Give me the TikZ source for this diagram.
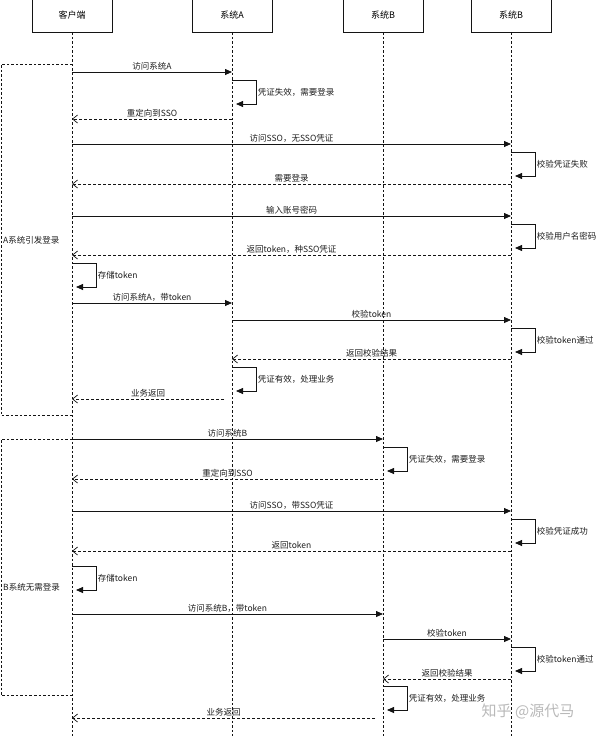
\documentclass[tikz,border=0pt]{standalone}
\usepackage{fontspec}
\usepackage{tikz}
\usetikzlibrary{arrows.meta,positioning,calc}
\newfontfamily\cjk{Noto Sans CJK SC}
\definecolor{seqInk}{RGB}{20,20,20}
\definecolor{seqText}{RGB}{30,30,30}
\definecolor{markGray}{RGB}{185,185,185}
\tikzset{
  actor/.style={draw=seqInk, fill=white, line width=0.8pt, minimum width=80pt, minimum height=33pt,
                inner sep=0pt, font=\cjk\fontsize{9}{10}\selectfont},
  lifeline/.style={draw=seqInk, line width=0.7pt, dash pattern=on 2.5pt off 2pt},
  framebox/.style={draw=seqInk, line width=0.7pt, dash pattern=on 2.5pt off 2pt},
  msglbl/.style={font=\cjk\fontsize{8.5}{9}\selectfont, text=seqText, inner sep=1.5pt},
  callarrow/.style={-{Triangle[length=7pt,width=6pt]}, line width=0.8pt, draw=seqInk},
  backarrow/.style={-{Straight Barb[length=5pt,width=8pt]}, line width=0.7pt, draw=seqInk,
                    dash pattern=on 3pt off 2pt}
}
\begin{document}
\begin{tikzpicture}[x=1pt, y=-1pt]
\useasboundingbox (0,0) rectangle (600,736);
\node[actor] (client) at (72,15.5) {客户端};
\node[actor] (sysa) at (232,15.5) {系统A};
\node[actor] (sysb) at (383,15.5) {系统B};
\node[actor] (sso) at (511,15.5) {系统B};
\foreach \n in {client,sysa,sysb,sso}
  \draw[lifeline] (\n.south) -- (\n.south |- 0,736);
\draw[framebox] (client.south |- 0,64) -| (1,415) -- (client.south |- 0,415);
\node[msglbl, anchor=west, inner sep=0pt] (grpa) at (3,240) {A系统引发登录};
\draw[framebox] (client.south |- 0,439) -| (1,695) -- (client.south |- 0,695);
\node[msglbl, anchor=west, inner sep=0pt] (grpb) at (3,587) {B系统无需登录};
\foreach \a/\b/\y/\t in {client/sysa/72/访问系统A, client/sso/144/访问SSO，无SSO凭证,
    client/sso/216/输入账号密码, client/sysa/303/访问系统A，带token, sysa/sso/320/校验token,
    client/sysb/439/访问系统B, client/sso/511/访问SSO，带SSO凭证,
    client/sysb/614/访问系统B，带token, sysb/sso/639/校验token}
  \draw[callarrow] (\a |- 0,\y) -- node[above, msglbl] {\t} (\b |- 0,\y);
\foreach \a/\b/\s/\y/\t in {sysa/client/0/119/重定向到SSO, sso/client/0/184/需要登录,
    sso/client/0/255/返回token，种SSO凭证, sso/sysa/0/359/返回校验结果, sysa/client/8/399/业务返回,
    sysb/client/0/479/重定向到SSO, sso/client/0/551/返回token, sso/sysb/0/679/返回校验结果,
    sysb/client/8/718/业务返回}
  \draw[backarrow] ($(\a |- 0,\y)-(\s,0)$) -- node[above, msglbl] {\t} (\b |- 0,\y);
\foreach \a/\y/\t in {sysa/80/凭证失效，需要登录, sso/152/校验凭证失败, sso/224/校验用户名密码,
    client/263/存储token, sso/328/校验token通过, sysa/367/凭证有效，处理业务,
    sysb/447/凭证失效，需要登录, sso/519/校验凭证成功, client/566/存储token,
    sso/647/校验token通过, sysb/686/凭证有效，处理业务}
  \draw[callarrow] (\a |- 0,\y) -- ++(24,0) -- node[right, msglbl] {\t} ++(0,24) -- ++(-20,0);
\node[text=markGray, font=\cjk\fontsize{15}{16}\selectfont] (mark) at (528,711) {知乎 @源代马};
\end{tikzpicture}
\end{document}
